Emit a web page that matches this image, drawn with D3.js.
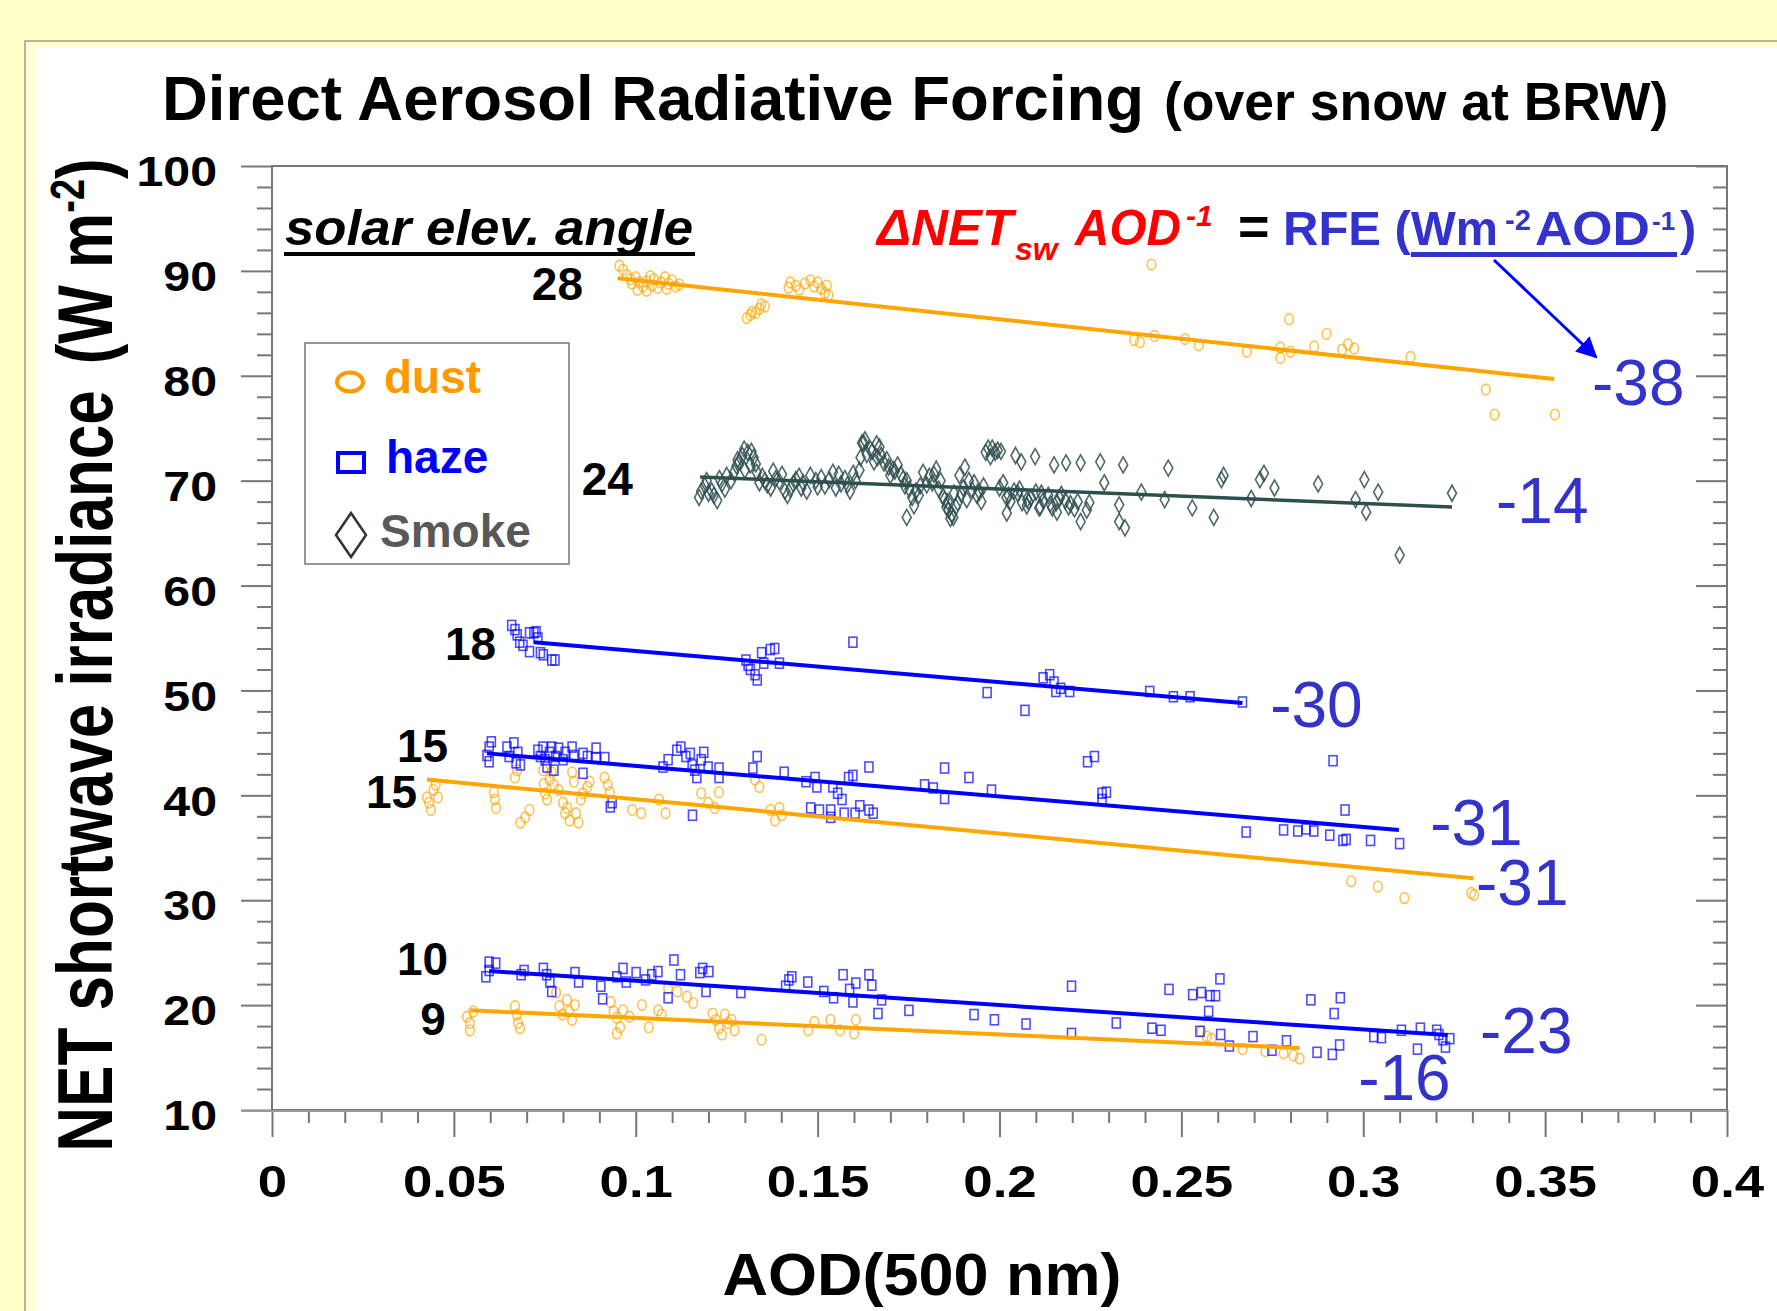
<!DOCTYPE html>
<html>
<head>
<meta charset="utf-8">
<script src="https://cdn.jsdelivr.net/npm/d3@7"></script>
<style>
  html, body { margin: 0; padding: 0; background: #ffffc8; }
  svg { display: block; }
</style>
</head>
<body>
<svg id="chart" width="1777" height="1311"></svg>
<script>
"use strict";

window.addEventListener("load", function () {
  draw();
});

const FONT = '"Liberation Sans", Arial, Helvetica, sans-serif';

// axis values
const xDomain = [0, 0.4];
const yDomain = [10, 100];
const xTicks = [0, 0.05, 0.1, 0.15, 0.2, 0.25, 0.3, 0.35, 0.4];
const xTickLabels = ["0", "0.05", "0.1", "0.15", "0.2", "0.25", "0.3", "0.35", "0.4"];
const yTicks = [10, 20, 30, 40, 50, 60, 70, 80, 90, 100];
const yTickLabels = ["10", "20", "30", "40", "50", "60", "70", "80", "90", "100"];

// [AOD, NET W m-2]
const dust28 = [
  [0.0955, 90.5], [0.0965, 90.1], [0.0975, 89.6], [0.0985, 89.2], [0.099, 88.8], [0.1, 89.4],
  [0.101, 88.9], [0.102, 88.5], [0.103, 89.0], [0.104, 89.5], [0.1045, 88.6], [0.105, 89.2],
  [0.106, 88.4], [0.107, 88.9], [0.108, 89.4], [0.1085, 88.3], [0.109, 88.8], [0.11, 89.1],
  [0.111, 88.5], [0.112, 88.7], [0.1005, 88.2], [0.103, 88.1],
  [0.1305, 85.5], [0.1315, 85.8], [0.132, 86.1], [0.133, 86.0], [0.134, 86.4], [0.1345, 86.8], [0.1355, 86.6],
  [0.142, 88.4], [0.1425, 88.9], [0.144, 88.6], [0.145, 88.2], [0.1465, 88.8], [0.148, 89.1],
  [0.149, 88.5], [0.15, 88.9], [0.151, 88.3], [0.152, 87.9], [0.1525, 88.6], [0.153, 87.7],
  [0.2418, 90.6], [0.237, 83.4], [0.2386, 83.2], [0.2426, 83.8], [0.251, 83.5], [0.2548, 82.9],
  [0.268, 82.3], [0.2772, 82.7], [0.2772, 81.7], [0.2796, 85.4], [0.28, 82.3], [0.2865, 82.8],
  [0.2899, 84.0], [0.2942, 82.5], [0.2958, 83.0], [0.2975, 82.6], [0.313, 81.8], [0.3337, 78.7],
  [0.3361, 76.3], [0.3527, 76.3],
];

const smoke24 = [
  [0.1174, 68.4], [0.118, 69.0], [0.119, 69.5], [0.12, 68.8], [0.1209, 69.0], [0.1224, 68.1],
  [0.1237, 69.7], [0.125, 70.5], [0.1262, 70.0], [0.1277, 71.4], [0.1285, 71.8], [0.1293, 72.4],
  [0.13, 71.0], [0.1308, 72.7], [0.1315, 71.5], [0.1324, 72.2], [0.1333, 70.8], [0.134, 69.8],
  [0.1355, 70.0], [0.1371, 69.3], [0.1385, 70.2], [0.1402, 70.6], [0.1417, 68.6], [0.1425, 69.2],
  [0.1433, 69.7], [0.1449, 70.4], [0.146, 69.8], [0.147, 69.0], [0.1495, 70.0], [0.151, 70.3],
  [0.152, 69.5], [0.1542, 70.8], [0.155, 69.3], [0.1564, 69.7], [0.1575, 70.2], [0.1589, 69.0],
  [0.1604, 70.0], [0.1615, 71.0], [0.1622, 73.6], [0.1626, 73.6], [0.1635, 72.5], [0.1645, 73.0],
  [0.1655, 71.8], [0.1664, 72.2], [0.167, 73.2], [0.1682, 71.7], [0.169, 72.0], [0.17, 70.5],
  [0.1707, 71.1], [0.172, 71.5], [0.1729, 70.6], [0.174, 69.5], [0.1745, 70.0], [0.1745, 66.5],
  [0.176, 68.4], [0.177, 69.0], [0.1782, 69.5], [0.179, 70.8], [0.1807, 70.4], [0.1815, 69.8],
  [0.1826, 71.1], [0.1838, 70.0], [0.1845, 68.5], [0.1849, 68.2], [0.1854, 67.5], [0.186, 67.2],
  [0.1869, 66.8], [0.1873, 66.5], [0.1875, 68.8], [0.1885, 67.9], [0.189, 70.5], [0.19, 69.3],
  [0.1905, 71.3], [0.191, 68.2], [0.1916, 70.0], [0.193, 69.8], [0.1938, 68.6], [0.195, 68.0],
  [0.1956, 69.5], [0.1969, 73.1], [0.1975, 72.3], [0.198, 73.1], [0.1988, 72.7], [0.2, 69.3],
  [0.2004, 72.8], [0.201, 69.8], [0.2019, 68.4], [0.202, 66.9], [0.203, 68.0], [0.204, 69.0],
  [0.2044, 72.4], [0.205, 68.8], [0.206, 71.8], [0.2062, 67.9], [0.2075, 67.6], [0.2076, 68.2],
  [0.2087, 68.4], [0.2098, 72.3], [0.21, 68.9], [0.2109, 67.4], [0.2112, 67.5], [0.212, 68.1],
  [0.2134, 68.6], [0.2145, 67.4], [0.215, 71.5], [0.2156, 67.9], [0.2158, 67.0], [0.217, 68.7],
  [0.2181, 68.1], [0.2183, 71.7], [0.2195, 67.8], [0.2206, 67.3], [0.2223, 71.7], [0.2223, 66.1],
  [0.224, 67.2], [0.2247, 67.9], [0.2277, 71.8], [0.2288, 69.8], [0.2329, 67.7], [0.2329, 66.1],
  [0.234, 71.5], [0.2345, 65.5], [0.239, 68.9], [0.2454, 68.2], [0.2464, 71.2], [0.253, 67.4],
  [0.2589, 66.5], [0.261, 70.1], [0.2616, 70.5], [0.2692, 68.3], [0.2716, 70.1], [0.2727, 70.7],
  [0.2756, 69.3], [0.2876, 69.7], [0.2979, 68.2], [0.3003, 70.1], [0.3008, 67.0], [0.3041, 68.9],
  [0.31, 62.9], [0.3244, 68.8],
  [0.1195, 70.0], [0.1215, 68.6], [0.123, 70.2], [0.1245, 69.2], [0.127, 70.8], [0.128, 72.0],
  [0.1298, 73.0], [0.1318, 72.8], [0.133, 71.6], [0.1348, 70.4], [0.1362, 69.6], [0.1378, 70.9],
  [0.1395, 69.9], [0.141, 69.0], [0.144, 70.1], [0.1455, 69.3], [0.148, 70.5], [0.15, 69.4],
  [0.1532, 70.1], [0.1558, 70.6], [0.1582, 69.6], [0.1598, 70.7], [0.1618, 72.2], [0.163, 73.9],
  [0.165, 72.8], [0.1662, 73.5], [0.1675, 72.4], [0.1695, 71.3], [0.1712, 70.9], [0.1735, 70.2],
  [0.1752, 69.2], [0.1765, 67.6], [0.1778, 68.6], [0.18, 69.6], [0.182, 70.6], [0.1833, 69.2],
  [0.1858, 68.0], [0.1865, 66.4], [0.188, 67.5], [0.1895, 68.7], [0.1925, 69.1], [0.1945, 68.9],
  [0.1962, 72.7], [0.1995, 72.9], [0.2025, 68.6], [0.2055, 69.2], [0.208, 68.0], [0.2115, 68.8],
  [0.214, 67.8], [0.2165, 68.3], [0.219, 67.5], [0.2215, 68.0],
];

const haze18 = [
  [0.0659, 56.2], [0.0668, 55.8], [0.0674, 55.3], [0.0681, 54.6], [0.069, 54.3], [0.0708, 53.7],
  [0.0708, 55.5], [0.072, 55.5], [0.0726, 55.6], [0.0731, 55.0], [0.0738, 53.6], [0.0746, 53.4],
  [0.0769, 52.9], [0.0778, 52.9], [0.1303, 52.9], [0.1309, 52.4], [0.1315, 52.0], [0.1328, 51.5],
  [0.1334, 51.0], [0.1346, 53.6], [0.1352, 52.6], [0.137, 53.9], [0.1382, 54.0], [0.1395, 52.6],
  [0.1597, 54.6], [0.1966, 49.8], [0.207, 48.1], [0.212, 51.2], [0.2138, 51.5], [0.215, 50.8],
  [0.2155, 49.9], [0.2168, 50.2], [0.2193, 49.9], [0.2413, 49.9], [0.2478, 49.4], [0.2524, 49.4],
  [0.2668, 48.9],
];

const haze15 = [
  [0.0591, 43.8], [0.0597, 44.6], [0.0603, 45.1], [0.0597, 43.2], [0.0646, 44.6], [0.0652, 43.7],
  [0.0665, 45.0], [0.0671, 43.1], [0.0676, 44.1], [0.0683, 42.9], [0.0731, 44.3], [0.0738, 43.7],
  [0.0745, 44.6], [0.0751, 43.4], [0.0756, 42.7], [0.0763, 44.1], [0.0769, 44.6], [0.0775, 42.4],
  [0.078, 43.7], [0.0788, 44.5], [0.08, 43.4], [0.0806, 44.1], [0.0825, 44.6], [0.083, 43.8],
  [0.0855, 42.1], [0.0855, 44.0], [0.0867, 43.7], [0.0891, 44.5], [0.0891, 43.6], [0.0915, 43.6],
  [0.093, 38.9], [0.0935, 39.3], [0.1075, 42.7], [0.1089, 43.4], [0.1113, 44.3], [0.1124, 44.6],
  [0.1138, 43.7], [0.115, 44.0], [0.1155, 42.9], [0.1162, 42.4], [0.1168, 41.7], [0.118, 43.4],
  [0.1187, 44.1], [0.1199, 42.7], [0.1229, 42.6], [0.1229, 41.7], [0.1156, 38.1], [0.1334, 43.7],
  [0.1322, 42.6], [0.1408, 42.2], [0.1468, 41.3], [0.1493, 41.7], [0.1498, 40.8], [0.1481, 38.8],
  [0.1505, 38.6], [0.1536, 38.6], [0.1536, 37.9], [0.1542, 40.8], [0.1555, 40.2], [0.1567, 39.6],
  [0.1573, 38.3], [0.1585, 41.7], [0.1597, 41.9], [0.1603, 38.3], [0.1616, 39.0], [0.1641, 38.6],
  [0.1641, 42.7], [0.1653, 38.3], [0.1794, 41.0], [0.1818, 40.7], [0.1849, 42.6], [0.1849, 39.7],
  [0.1916, 41.7], [0.1978, 40.5], [0.2242, 43.2], [0.2261, 43.7], [0.2282, 40.2], [0.2294, 40.3],
  [0.2282, 39.6], [0.2917, 43.3], [0.295, 38.6], [0.2678, 36.5], [0.2781, 36.7], [0.282, 36.6],
  [0.2843, 36.8], [0.2864, 36.6], [0.2908, 36.2], [0.2944, 35.7], [0.2953, 35.8], [0.302, 35.7],
  [0.31, 35.4],
];

const dust15 = [
  [0.0426, 39.8], [0.0432, 39.3], [0.0437, 38.6], [0.0444, 40.5], [0.045, 41.0], [0.0456, 39.8],
  [0.061, 40.3], [0.0613, 39.6], [0.0616, 38.8], [0.0668, 41.7], [0.0674, 42.4], [0.0683, 37.4],
  [0.0696, 37.9], [0.0708, 38.6], [0.0746, 42.4], [0.0747, 41.1], [0.0751, 40.2], [0.0756, 39.6],
  [0.0763, 41.5], [0.0769, 42.2], [0.0775, 41.0], [0.0788, 40.5], [0.08, 39.3], [0.0806, 38.3],
  [0.0812, 38.8], [0.0818, 37.6], [0.0825, 42.2], [0.083, 41.3], [0.0836, 38.3], [0.0843, 37.4],
  [0.0849, 39.6], [0.0855, 40.2], [0.0867, 40.8], [0.0873, 41.3], [0.0914, 41.7], [0.0923, 41.0],
  [0.0929, 40.3], [0.099, 38.6], [0.1015, 38.3], [0.1064, 39.6], [0.1082, 38.3], [0.118, 40.2],
  [0.1199, 39.3], [0.1217, 38.8], [0.1229, 40.3], [0.1328, 41.5], [0.134, 40.8], [0.137, 38.6],
  [0.1383, 37.6], [0.1395, 38.8], [0.1401, 38.1], [0.2967, 31.8], [0.304, 31.3], [0.3113, 30.2],
  [0.3297, 30.7], [0.3305, 30.5],
];

const haze10 = [
  [0.0588, 22.7], [0.0597, 23.3], [0.0597, 24.1], [0.0615, 24.0], [0.0685, 22.9], [0.0693, 23.3],
  [0.0746, 23.5], [0.0755, 22.9], [0.0764, 22.2], [0.0769, 21.3], [0.0833, 23.1], [0.0843, 22.2],
  [0.0904, 21.8], [0.0909, 20.6], [0.0948, 22.7], [0.0965, 23.5], [0.0974, 22.2], [0.1001, 23.1],
  [0.1027, 22.4], [0.1044, 22.9], [0.1061, 23.2], [0.1089, 20.7], [0.1105, 24.3], [0.1123, 22.9],
  [0.1176, 23.1], [0.1184, 23.5], [0.1193, 21.3], [0.1201, 23.2], [0.1289, 21.2], [0.1412, 21.8],
  [0.1421, 22.4], [0.1429, 22.7], [0.1473, 22.2], [0.1517, 21.3], [0.1544, 20.7], [0.157, 22.9],
  [0.1588, 21.5], [0.1597, 20.3], [0.1605, 22.1], [0.1641, 22.9], [0.1649, 21.9], [0.1666, 19.2],
  [0.1676, 20.5], [0.1751, 19.5], [0.193, 19.1], [0.1986, 18.6], [0.2073, 18.2], [0.2198, 21.8],
  [0.2198, 17.3], [0.2321, 18.3], [0.2419, 17.8], [0.2444, 17.6], [0.2466, 21.5], [0.2531, 21.0],
  [0.2555, 21.2], [0.2579, 20.9], [0.2594, 20.9], [0.2606, 22.5], [0.2575, 19.4], [0.2551, 17.5],
  [0.2608, 17.2], [0.2632, 16.1], [0.2697, 17.0], [0.2749, 15.7], [0.2789, 16.6], [0.2856, 20.5],
  [0.2873, 15.5], [0.2915, 15.3], [0.292, 19.2], [0.2935, 16.2], [0.2937, 20.7], [0.3029, 17.0],
  [0.305, 16.9], [0.3105, 17.6], [0.3149, 15.8], [0.3157, 17.8], [0.3202, 17.6], [0.3208, 17.2],
  [0.3219, 16.7], [0.3226, 16.0], [0.3238, 16.8],
];

const dust9 = [
  [0.0536, 18.9], [0.0544, 18.3], [0.0544, 17.6], [0.0553, 19.4], [0.0668, 19.9], [0.0673, 19.1],
  [0.0676, 18.3], [0.0682, 17.8], [0.0781, 21.2], [0.079, 19.9], [0.0799, 19.1], [0.0811, 20.5],
  [0.0817, 19.4], [0.0825, 18.6], [0.0833, 20.0], [0.0931, 20.3], [0.0939, 19.4], [0.0948, 18.8],
  [0.0957, 17.9], [0.0948, 17.3], [0.0965, 19.5], [0.0983, 18.9], [0.1017, 20.0], [0.1036, 17.9],
  [0.1062, 19.5], [0.1071, 19.1], [0.1089, 21.6], [0.1114, 21.3], [0.1141, 20.8], [0.1158, 20.2],
  [0.1211, 19.2], [0.122, 18.6], [0.1229, 17.8], [0.1237, 17.2], [0.1245, 19.1], [0.1254, 18.3],
  [0.1263, 18.6], [0.1272, 17.6], [0.1346, 16.7], [0.1474, 17.6], [0.1491, 18.4], [0.1535, 18.6],
  [0.1562, 17.6], [0.1605, 18.6], [0.16, 17.3], [0.2555, 17.5], [0.257, 17.0], [0.2583, 16.8],
  [0.2668, 15.8], [0.2731, 15.6], [0.2781, 15.4], [0.2808, 15.2], [0.2825, 14.9],
];

// fitted lines: [start, end] as [AOD, NET]
const dust28Fit = [[0.095, 89.3], [0.3525, 79.7]];
const smoke24Fit = [[0.1177, 70.35], [0.3244, 67.5]];
const haze18Fit = [[0.072, 54.6], [0.2668, 48.8]];
const haze15Fit = [[0.0591, 44.0], [0.3098, 36.7]];
const dust15Fit = [[0.0426, 41.5], [0.3303, 32.1]];
const haze10Fit = [[0.0597, 23.25], [0.3232, 17.15]];
const dust9Fit = [[0.0545, 19.5], [0.2825, 15.9]];

// solar elevation angles and RFE numbers per fit
const angleLabels = ["28", "24", "18", "15", "15", "10", "9"];
const rfeValues = [-38, -14, -30, -31, -31, -23, -16];

// where the labels sit, in data space
const angleLabelAt = [[0.0855, 87.2], [0.0992, 68.6], [0.0616, 52.9], [0.0484, 43.2], [0.0399, 38.8], [0.0484, 22.9], [0.0478, 17.15]];
const rfeLabelAt = [[0.3629, 77.2], [0.3365, 66.0], [0.2744, 46.5], [0.3184, 35.3], [0.331, 29.55], [0.3321, 15.45], [0.2986, 10.95]];

const plot = { left: 272, right: 1727, top: 166, bottom: 1110 };

const styles = {
  dust: { color: "#ffa500", shape: "circle", lineWidth: 4 },
  haze: { color: "#0000ff", shape: "square", lineWidth: 4 },
  smoke: { color: "#2f4f4f", shape: "diamond", lineWidth: 3.5 },
};

const series = [
  { kind: "dust", points: dust28, fit: dust28Fit },
  { kind: "smoke", points: smoke24, fit: smoke24Fit },
  { kind: "haze", points: haze18, fit: haze18Fit },
  { kind: "dust", points: dust15, fit: dust15Fit },
  { kind: "haze", points: haze15, fit: haze15Fit },
  { kind: "dust", points: dust9, fit: dust9Fit },
  { kind: "haze", points: haze10, fit: haze10Fit },
];

function draw() {
  const svg = d3.select("#chart");
  const x = d3.scaleLinear().domain(xDomain).range([plot.left, plot.right]);
  const y = d3.scaleLinear().domain(yDomain).range([plot.bottom, plot.top]);

  drawBackground(svg);
  drawTitle(svg);
  drawAxes(svg, x, y);
  drawSeries(svg, x, y);
  drawLabels(svg, x, y);
  drawEquation(svg);
  drawLegend(svg);
}

function drawBackground(svg) {
  svg.append("rect").attr("width", 1777).attr("height", 1311).attr("fill", "#ffffc8");
  svg.append("rect")
    .attr("x", 25).attr("y", 41).attr("width", 1777).attr("height", 1311)
    .attr("fill", "#ffffd8").attr("stroke", "#a0a080").attr("stroke-width", 1.5);
  svg.append("rect")
    .attr("x", 38).attr("y", 48).attr("width", 1777).attr("height", 1311)
    .attr("fill", "#ffffff");
}

function drawTitle(svg) {
  const t = svg.append("text")
    .attr("x", 162).attr("y", 120)
    .attr("font-family", FONT).attr("font-weight", "bold").attr("font-size", 63.5)
    .attr("fill", "#000");
  t.append("tspan").text("Direct Aerosol Radiative Forcing");
  t.append("tspan").attr("dx", 5).attr("font-size", 53.5).text(" (over snow at BRW)");
}

function styleTicks(g) {
  g.selectAll(".domain").remove();
  g.selectAll(".tick line").attr("stroke", "#777").attr("stroke-width", 2);
}

function drawAxes(svg, x, y) {
  const yMinor = d3.range(12, 100, 2).filter((v) => v % 10 !== 0);
  const xMinor = d3.range(1, 40).filter((v) => v % 5 !== 0).map((v) => v / 100);
  const g = svg.append("g").attr("class", "axes");

  // minor ticks, left outward, right inward, bottom outward
  g.append("g").attr("transform", `translate(${plot.left},0)`)
    .call(d3.axisLeft(y).tickValues(yMinor).tickSize(15).tickFormat(""))
    .call(styleTicks);
  g.append("g").attr("transform", `translate(${plot.right},0)`)
    .call(d3.axisRight(y).tickValues(yMinor).tickSize(-14).tickFormat(""))
    .call(styleTicks);
  g.append("g").attr("transform", `translate(0,${plot.bottom})`)
    .call(d3.axisBottom(x).tickValues(xMinor).tickSize(13).tickFormat(""))
    .call(styleTicks);

  // major ticks
  g.append("g").attr("transform", `translate(${plot.right},0)`)
    .call(d3.axisRight(y).tickValues(yTicks).tickSize(-31).tickFormat(""))
    .call(styleTicks);

  const sy = 1.15;
  const left = g.append("g").attr("transform", `translate(${plot.left},0)`)
    .call(d3.axisLeft(y).tickValues(yTicks).tickSize(31).tickFormat((d, i) => yTickLabels[i]))
    .call(styleTicks);
  left.selectAll("text")
    .attr("x", -55 / sy).attr("dy", "0.47em")
    .attr("transform", `scale(${sy},1)`)
    .attr("font-family", FONT).attr("font-weight", "bold").attr("font-size", 42)
    .attr("fill", "#000");

  const sx = 1.2;
  const bottom = g.append("g").attr("transform", `translate(0,${plot.bottom})`)
    .call(d3.axisBottom(x).tickValues(xTicks).tickSize(27).tickFormat((d, i) => xTickLabels[i]))
    .call(styleTicks);
  bottom.selectAll("text")
    .attr("y", 87).attr("dy", 0)
    .attr("transform", `scale(${sx},1)`)
    .attr("font-family", FONT).attr("font-weight", "bold").attr("font-size", 44)
    .attr("fill", "#000");

  // frame
  g.append("path")
    .attr("d", `M${plot.left},${plot.top}H${plot.right}V${plot.bottom}H${plot.left}Z`)
    .attr("fill", "none").attr("stroke", "#777").attr("stroke-width", 2);
  g.append("line")
    .attr("x1", plot.left - 31).attr("x2", plot.right)
    .attr("y1", plot.bottom + 1).attr("y2", plot.bottom + 1)
    .attr("stroke", "#999").attr("stroke-width", 2);

  // axis titles
  const yt = svg.append("text")
    .attr("transform", `translate(112,655) scale(1.26,1) rotate(-90)`)
    .attr("text-anchor", "middle")
    .attr("font-family", FONT).attr("font-weight", "bold").attr("font-size", 62)
    .attr("fill", "#000");
  yt.append("tspan").text("NET shortwave irradiance");
  yt.append("tspan").attr("dx", 26).text("(W m");
  yt.append("tspan").attr("dy", -22).attr("font-size", 38).text("-2");
  yt.append("tspan").attr("dy", 22).text(")");

  svg.append("text")
    .attr("transform", "translate(922,1295) scale(1.05,1)")
    .attr("text-anchor", "middle")
    .attr("font-family", FONT).attr("font-weight", "bold").attr("font-size", 60)
    .attr("fill", "#000")
    .text("AOD(500 nm)");
}

function drawMarkers(g, pts, st, x, y) {
  const sel = g.append("g")
    .attr("fill", "none").attr("stroke", st.color).attr("stroke-width", 1.6)
    .attr("stroke-opacity", st.shape === "diamond" ? 0.85 : 0.7);
  if (st.shape === "circle") {
    sel.selectAll("ellipse").data(pts).join("ellipse")
      .attr("cx", (d) => x(d[0])).attr("cy", (d) => y(d[1]))
      .attr("rx", 4.3).attr("ry", 5.3);
  } else if (st.shape === "square") {
    sel.selectAll("rect").data(pts).join("rect")
      .attr("x", (d) => x(d[0]) - 4).attr("y", (d) => y(d[1]) - 5)
      .attr("width", 8).attr("height", 10);
  } else {
    sel.selectAll("path").data(pts).join("path")
      .attr("d", "M0,-8L4.5,0L0,8L-4.5,0Z")
      .attr("transform", (d) => `translate(${x(d[0])},${y(d[1])})`);
  }
}

function drawSeries(svg, x, y) {
  const line = d3.line().x((d) => x(d[0])).y((d) => y(d[1]));
  const g = svg.append("g").attr("class", "series");
  series.forEach((s) => drawMarkers(g, s.points, styles[s.kind], x, y));
  series.forEach((s) => {
    g.append("path")
      .attr("d", line(s.fit))
      .attr("fill", "none")
      .attr("stroke", styles[s.kind].color)
      .attr("stroke-width", styles[s.kind].lineWidth);
  });
}

function drawLabels(svg, x, y) {
  const g = svg.append("g").attr("font-family", FONT);
  g.selectAll("text.angle").data(angleLabels).join("text")
    .attr("class", "angle")
    .attr("x", (d, i) => x(angleLabelAt[i][0]))
    .attr("y", (d, i) => y(angleLabelAt[i][1]))
    .attr("text-anchor", "end")
    .attr("font-weight", "bold").attr("font-size", 46).attr("fill", "#000")
    .text((d) => d);

  g.selectAll("text.rfe").data(rfeValues).join("text")
    .attr("class", "rfe")
    .attr("x", (d, i) => x(rfeLabelAt[i][0]))
    .attr("y", (d, i) => y(rfeLabelAt[i][1]))
    .attr("font-size", 64).attr("fill", "#3333cc")
    .text((d) => String(d));
}

function drawEquation(svg) {
  const g = svg.append("g").attr("font-family", FONT).attr("font-weight", "bold");
  const red = "#ff0000";
  const blue = "#3333cc";
  const parts = [
    { t: "\u0394NET", x: 877, y: 245, s: 50, c: red, i: true, w: 136 },
    { t: "sw", x: 1015, y: 260, s: 32, c: red, i: true },
    { t: "AOD", x: 1075, y: 245, s: 50, c: red, i: true, w: 106 },
    { t: "-1", x: 1186, y: 226, s: 30, c: red, i: true },
    { t: "=", x: 1238, y: 245, s: 54, c: "#000", i: false },
    { t: "RFE (", x: 1283, y: 245, s: 49, c: blue, i: false },
    { t: "Wm", x: 1411, y: 245, s: 49, c: blue, i: false, w: 87 },
    { t: "-2", x: 1505, y: 230, s: 29, c: blue, i: false },
    { t: "AOD", x: 1535, y: 245, s: 49, c: blue, i: false, w: 115 },
    { t: "-1", x: 1652, y: 230, s: 26, c: blue, i: false },
    { t: ")", x: 1680, y: 245, s: 49, c: blue, i: false },
  ];
  g.selectAll("text").data(parts).join("text")
    .attr("x", (d) => d.x).attr("y", (d) => d.y)
    .attr("font-size", (d) => d.s).attr("fill", (d) => d.c)
    .attr("font-style", (d) => (d.i ? "italic" : "normal"))
    .attr("textLength", (d) => d.w || null)
    .attr("lengthAdjust", (d) => (d.w ? "spacingAndGlyphs" : null))
    .text((d) => d.t);
  g.append("line")
    .attr("x1", 1411).attr("x2", 1677).attr("y1", 254.5).attr("y2", 254.5)
    .attr("stroke", blue).attr("stroke-width", 5);

  // arrow from the units to the -38
  svg.append("defs").append("marker")
    .attr("id", "arrow").attr("viewBox", "0 0 10 10")
    .attr("refX", 9).attr("refY", 5)
    .attr("markerWidth", 7).attr("markerHeight", 7)
    .attr("markerUnits", "strokeWidth")
    .attr("orient", "auto")
    .append("path").attr("d", "M0,0L10,5L0,10Z").attr("fill", "#0000ff");
  svg.append("line")
    .attr("x1", 1494).attr("y1", 260).attr("x2", 1596).attr("y2", 357)
    .attr("stroke", "#0000ff").attr("stroke-width", 3)
    .attr("marker-end", "url(#arrow)");

  // solar elev. angle heading
  svg.append("text")
    .attr("x", 285).attr("y", 245)
    .attr("textLength", 408).attr("lengthAdjust", "spacingAndGlyphs")
    .attr("font-family", FONT).attr("font-weight", "bold").attr("font-style", "italic")
    .attr("font-size", 50).attr("fill", "#000")
    .text("solar elev. angle");
  svg.append("line")
    .attr("x1", 284).attr("x2", 695).attr("y1", 254).attr("y2", 254)
    .attr("stroke", "#000").attr("stroke-width", 4);
}

function drawLegend(svg) {
  const g = svg.append("g").attr("font-family", FONT).attr("font-weight", "bold");
  g.append("rect")
    .attr("x", 305).attr("y", 343).attr("width", 264).attr("height", 221)
    .attr("fill", "#fff").attr("stroke", "#777").attr("stroke-width", 1.5);

  g.append("ellipse")
    .attr("cx", 350).attr("cy", 382).attr("rx", 13).attr("ry", 9.5)
    .attr("fill", "none").attr("stroke", "#ff9900").attr("stroke-width", 4);
  g.append("rect")
    .attr("x", 338).attr("y", 453).attr("width", 26).attr("height", 19)
    .attr("fill", "none").attr("stroke", "#0000ff").attr("stroke-width", 4);
  g.append("path")
    .attr("d", "M351,513L366,535L351,557L336,535Z")
    .attr("fill", "#fff").attr("stroke", "#333").attr("stroke-width", 2.5);

  g.append("text").attr("x", 384).attr("y", 393).attr("font-size", 46).attr("fill", "#ff9900").text("dust");
  g.append("text").attr("x", 386).attr("y", 473).attr("font-size", 46).attr("fill", "#0000ff").text("haze");
  g.append("text").attr("x", 380).attr("y", 547).attr("font-size", 46).attr("fill", "#595959").text("Smoke");
}
</script>
</body>
</html>
